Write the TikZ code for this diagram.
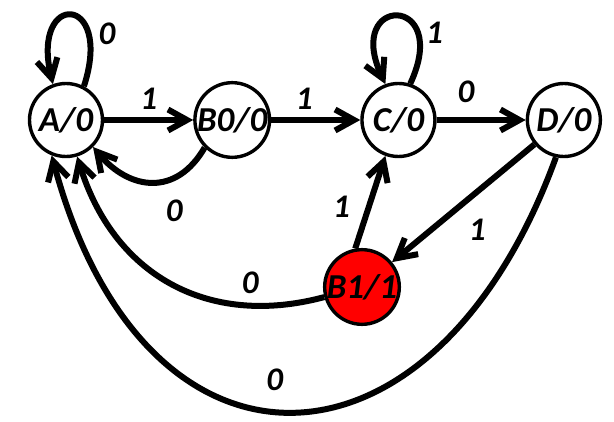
\documentclass[tikz,border=0pt]{standalone}
\usepackage{fontspec}
\setmainfont{Carlito}
\usepackage{tikz}
\usetikzlibrary{arrows.meta, positioning}

\begin{document}
\begin{tikzpicture}[x=1pt, y=1pt, node distance=89pt,
    stnode/.style={circle, draw, line width=3.4pt, fill=white, minimum size=73pt, inner sep=0pt, font=\fontsize{35}{35}\selectfont\bfseries\itshape},
    outnode/.style={stnode, fill=red},
    arr/.style={-{Straight Barb[length=19pt, width=21pt]}, line width=6pt},
    lbl/.style={inner sep=1pt, font=\fontsize{33}{33}\selectfont\bfseries\itshape}]
    \useasboundingbox (0,0) rectangle (614,-422);

    % states on the top row, Moore output after the slash
    \node[stnode] (A) at (66,-120) {A/0};
    \node[stnode, right=of A] (B0) {B0/0};
    \node[stnode, right=of B0] (C) {C/0};
    \node[stnode, right=of C] (D) {D/0};
    \node[outnode] (B1) at (362,-287) {B1/1};

    % self loops
    \draw[arr] (A.62) .. controls +(30,93) and +(-22,93) .. node[lbl, pos=0.25, right=6pt] {0} (A.110);
    \draw[arr] (C.72) .. controls +(42,90) and +(-42,90) .. node[lbl, pos=0.25, right=4pt] {1} (C.110);

    % forward moves along the top
    \draw[arr] (A) -- node[lbl, above=6pt] {1} (B0);
    \draw[arr] (B0) -- node[lbl, pos=0.37, above=6pt] {1} (C);
    \draw[arr] (C) -- node[lbl, pos=0.33, above=13pt] {0} (D);

    % back to the start on 0
    \draw[arr] (B0.-135) to[out=-120, in=-50, looseness=1.3] node[lbl, below right=14pt and 10pt] {0} (A.-45);

    % through the output state
    \draw[arr] (D) -- node[lbl, pos=0.53, below right=8pt and 6pt] {1} (B1);
    \draw[arr] (B1.100) -- node[lbl, pos=0.45, left=15pt] {1} (C.-110);
    \draw[arr] (B1) to[out=195, in=-73, looseness=1.1] node[lbl, pos=0.22, above=8pt] {0} (A);

    % long way round from D
    \draw[arr] (D.-102) to[out=-110, in=-75, looseness=1.81] node[lbl, pos=0.53, above=16pt] {0} (A.-112);
\end{tikzpicture}
\end{document}
